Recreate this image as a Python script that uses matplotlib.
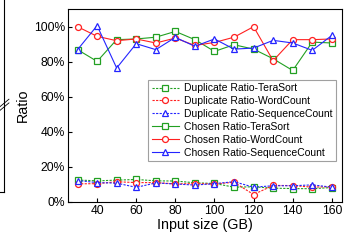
"""Duplicate vs chosen ratio across input sizes."""
import matplotlib
matplotlib.use("Agg")
import matplotlib.pyplot as plt
from matplotlib.lines import Line2D

plt.rcParams["font.family"] = ["Liberation Sans", "DejaVu Sans"]

sizes = [30, 40, 50, 60, 70, 80, 90, 100, 110, 120, 130, 140, 150, 160]

dup_terasort = [12.5, 12.0, 12.4, 12.8, 12.0, 11.9, 10.9, 10.5, 8.4, 8.6, 7.8, 7.6, 7.5, 8.2]
dup_wordcount = [10.3, 10.4, 11.5, 11.0, 11.0, 10.3, 10.4, 10.2, 11.2, 4.2, 9.4, 9.3, 8.4, 8.7]
dup_seqcount = [12.2, 11.0, 10.7, 8.3, 10.8, 10.2, 9.6, 10.4, 11.5, 8.4, 9.2, 9.2, 9.7, 8.4]

cho_terasort = [86.9, 80.2, 92.6, 93.0, 94.0, 97.3, 92.6, 85.9, 89.7, 87.2, 81.7, 75.0, 91.2, 90.7]
cho_wordcount = [100.0, 94.5, 92.0, 93.0, 90.7, 93.5, 89.3, 91.0, 94.0, 100.0, 80.6, 92.6, 92.6, 93.0]
cho_seqcount = [86.9, 100.6, 76.4, 90.3, 86.9, 93.9, 88.8, 93.0, 87.2, 87.8, 92.2, 90.7, 86.5, 95.0]

GREEN = "#22a022"
RED = "#ff2020"
BLUE = "#2424ff"

fig = plt.figure(figsize=(3.44, 2.48), dpi=100)
ax = fig.add_axes([0.197, 0.186, 0.796, 0.777])

common = dict(markersize=4.3, markerfacecolor="white", markeredgewidth=0.9)
dup_ls = (0, (2.0, 1.2))
ax.plot(sizes, dup_terasort, ls=dup_ls, lw=0.8, color=GREEN, marker="s",
        label="Duplicate Ratio-TeraSort", **common)
ax.plot(sizes, dup_wordcount, ls=dup_ls, lw=0.8, color=RED, marker="o",
        label="Duplicate Ratio-WordCount", **common)
ax.plot(sizes, dup_seqcount, ls=dup_ls, lw=0.8, color=BLUE, marker="^",
        label="Duplicate Ratio-SequenceCount", **common)
ax.plot(sizes, cho_terasort, ls="-", lw=0.8, color=GREEN, marker="s",
        label="Chosen Ratio-TeraSort", **common)
ax.plot(sizes, cho_wordcount, ls="-", lw=0.8, color=RED, marker="o",
        label="Chosen Ratio-WordCount", **common)
ax.plot(sizes, cho_seqcount, ls="-", lw=0.8, color=BLUE, marker="^",
        label="Chosen Ratio-SequenceCount", **common)

ax.set_xlim(25, 165)
ax.set_ylim(0, 110)
ax.set_xticks(range(40, 161, 20))
ax.set_yticks(range(0, 101, 20))
ax.set_yticklabels([f"{v}%" for v in range(0, 101, 20)])
ax.tick_params(direction="in", length=3, width=0.8, labelsize=8.7, pad=2)
for sp in ax.spines.values():
    sp.set_linewidth(0.8)

ax.set_xlabel("Input size (GB)", fontsize=10.3, labelpad=1)
ax.set_ylabel("Ratio", fontsize=10.3, labelpad=3)

leg = ax.legend(loc="upper right", bbox_to_anchor=(0.98, 0.635), fontsize=7.5,
                frameon=True, fancybox=False, borderaxespad=0, handlelength=2.6,
                handletextpad=0.5, labelspacing=0.28, borderpad=0.35)
leg.get_frame().set_edgecolor("#888888")
leg.get_frame().set_linewidth(0.8)

# edge of the neighbouring panel, with its axis break
fig.add_artist(Line2D([0.011, 0.011], [1.0, 0.226], color="black", lw=0.8))
fig.add_artist(Line2D([0.0, 0.011], [0.226, 0.226], color="black", lw=0.8))
fig.add_artist(Line2D([0.0, 0.026], [0.57, 0.60], color="black", lw=0.6))
fig.add_artist(Line2D([0.0, 0.026], [0.555, 0.585], color="black", lw=0.6))

fig.savefig("out.png", dpi=100)
